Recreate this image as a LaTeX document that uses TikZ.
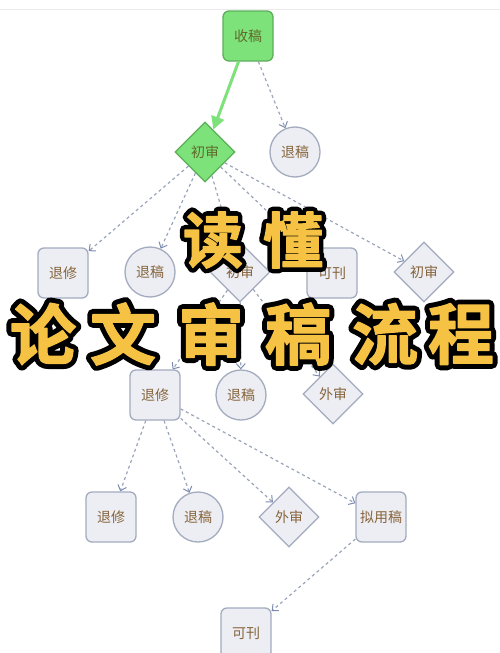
\documentclass[tikz,border=0pt]{standalone}
\usepackage{fontspec}
\newfontfamily\cjk{Noto Sans CJK SC}
\newfontfamily\cjkout{Noto Sans CJK SC Bold}[FakeBold=17]
\newfontfamily\cjkin{Noto Sans CJK SC Bold}[FakeBold=2]
\usetikzlibrary{shapes.geometric,arrows.meta}
\definecolor{nodefill}{HTML}{ECEEF3}
\definecolor{nodeline}{HTML}{A3ABBF}
\definecolor{labelc}{HTML}{86643C}
\definecolor{greenfill}{HTML}{7EE27A}
\definecolor{greenline}{HTML}{5BAE5A}
\definecolor{greentext}{HTML}{5E6A2A}
\definecolor{edgec}{HTML}{9BA5B9}
\definecolor{tipc}{HTML}{7D8CB0}
\definecolor{titley}{HTML}{F6C244}
\newcommand\titlechar[4]{% name, position, size, char
  \node[titleout, font=\cjkout\fontsize{#3}{#3}\selectfont] (#1o) at #2 {#4};
  \node[titlein, font=\cjkin\fontsize{#3}{#3}\selectfont] (#1) at #2 {#4};
}
\begin{document}
\begin{tikzpicture}[x=1pt,y=-1pt,
  base/.style={draw=nodeline, fill=nodefill, line width=1.3pt, text=labelc,
    font=\cjk\fontsize{14}{14}\selectfont, inner sep=0pt},
  boxnode/.style={base, rectangle, rounded corners=6pt, minimum width=50pt, minimum height=50pt},
  circnode/.style={base, circle, minimum size=50pt},
  dianode/.style={base, diamond, minimum width=60pt, minimum height=60pt},
  greenbox/.style={boxnode, fill=greenfill, draw=greenline, text=greentext},
  greendia/.style={dianode, fill=greenfill, draw=greenline, text=greentext},
  flow/.style={draw=edgec, line width=1.2pt, dash pattern=on 3pt off 3pt,
    -{Straight Barb[length=5pt,width=9pt,line width=1pt,color=tipc]}},
  mainflow/.style={draw=greenfill, line width=3pt,
    -{Triangle[length=13pt,width=13pt,color=greenfill]}},
  titleout/.style={text=black, inner sep=0pt, line join=round, line cap=round},
  titlein/.style={text=titley, inner sep=0pt, line join=round, line cap=round}]
\useasboundingbox (0,0) rectangle (500,653);
\fill[white] (0,0) rectangle (500,653);
\draw[black!8, line width=1pt] (0,9) -- (500,9);

% nodes
\node[greenbox] (shou) at (248,36) {收稿};
\node[greendia] (chu1) at (205,152) {初审};
\node[circnode] (tui1) at (295,152) {退稿};

\node[boxnode]  (xiu2) at (63,273)  {退修};
\node[circnode] (tui2) at (150,272) {退稿};
\node[dianode]  (chu2) at (240,272) {初审};
\node[boxnode]  (kan2) at (332,273) {可刊};
\node[dianode]  (chu3) at (424,272) {初审};

\node[boxnode]  (xiu3) at (155,395) {退修};
\node[circnode] (tui3) at (241,395) {退稿};
\node[dianode]  (wai3) at (333,394) {外审};

\node[boxnode]  (xiu4) at (111,517) {退修};
\node[circnode] (tui4) at (198,517) {退稿};
\node[dianode]  (wai4) at (289,517) {外审};
\node[boxnode]  (ni4)  at (381,517) {拟用稿};

\node[boxnode]  (kan5) at (246,633) {可刊};

% connectors
\draw[mainflow] (shou) -- (chu1);
\draw[flow] (shou) -- (tui1);
\draw[flow] (chu1) -- (xiu2);
\draw[flow] (chu1) -- (tui2);
\draw[flow] (chu1) -- (chu2);
\draw[flow] (chu1) -- (kan2);
\draw[flow] (chu1) -- (chu3);
\draw[flow] (chu2) -- (xiu3);
\draw[flow] (chu2) -- (tui3);
\draw[flow] (chu2) -- (wai3);
\draw[flow] (xiu3) -- (xiu4);
\draw[flow] (xiu3) -- (tui4);
\draw[flow] (xiu3) -- (wai4);
\draw[flow] (xiu3) -- (ni4);
\draw[flow] (ni4) -- (kan5);

% title overlay
\titlechar{du}{(213,240)}{60}{读}
\titlechar{dong}{(293,240)}{60}{懂}
\titlechar{lun}{(43,334)}{66}{论}
\titlechar{wen}{(123,334)}{66}{文}
\titlechar{shen}{(211,334)}{66}{审}
\titlechar{gao}{(298,334)}{66}{稿}
\titlechar{liu}{(385,334)}{66}{流}
\titlechar{cheng}{(461,334)}{66}{程}
\end{tikzpicture}
\end{document}
